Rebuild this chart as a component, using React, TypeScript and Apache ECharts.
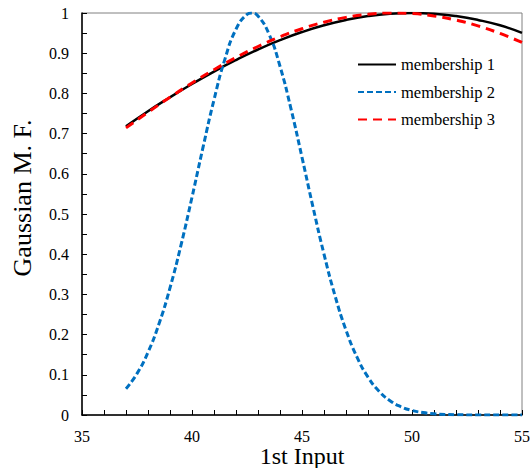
import React, { useEffect, useRef } from "react";
import * as echarts from "echarts";

const xTickLabels = [35, 40, 45, 50, 55];
const yTickLabels = [0, 0.1, 0.2, 0.3, 0.4, 0.5, 0.6, 0.7, 0.8, 0.9, 1];

const seriesNames = ["membership 1", "membership 2", "membership 3"];

const xWide = [37, 38, 39, 40, 41, 42, 43, 44, 45, 46, 47, 48, 49, 50, 51, 52, 53, 54, 55];
const m1Values = [0.718, 0.7558, 0.7904, 0.8233, 0.8544, 0.883, 0.9092, 0.9324, 0.9526, 0.9694, 0.9827, 0.9923, 0.9981, 1.0, 0.9981, 0.9923, 0.9827, 0.9694, 0.9506];
const m3Values = [0.7142, 0.753, 0.7903, 0.8258, 0.8589, 0.8894, 0.9167, 0.9407, 0.9609, 0.9771, 0.9891, 0.9967, 0.9999, 0.9986, 0.9927, 0.9824, 0.9679, 0.9492, 0.9267];

const xNarrow = [37, 37.5, 38, 38.5, 39, 39.5, 40, 40.5, 41, 41.5, 42, 42.5, 42.7, 43, 43.5, 44, 44.5, 45, 45.5, 46, 46.5, 47, 47.5, 48, 48.5, 49, 49.5, 50, 50.5, 51, 51.5, 52, 53, 54, 55];
const m2Values = [0.0651, 0.1029, 0.156, 0.2268, 0.3162, 0.4226, 0.5417, 0.6656, 0.7842, 0.8859, 0.9596, 0.9966, 1.0, 0.9925, 0.9476, 0.8675, 0.7615, 0.6409, 0.5172, 0.4002, 0.2969, 0.2112, 0.144, 0.0942, 0.0591, 0.0355, 0.0205, 0.0113, 0.006, 0.003, 0.0015, 0.0007, 0.0001, 0.0, 0.0];

const FONT = "Liberation Serif";

function pairs(xs: number[], ys: number[]) {
  return xs.map((x, i) => [x, ys[i]]);
}

export default function App() {
  const ref = useRef<HTMLDivElement>(null);
  useEffect(() => {
    document.body.style.margin = "0";
    if (!ref.current) return;
    const chart = echarts.init(ref.current, undefined, { renderer: "svg" });
    chart.setOption({
      animation: false,
      backgroundColor: "#ffffff",
      textStyle: { fontFamily: FONT },
      grid: {
        left: 82,
        right: 9,
        top: 13,
        bottom: 53,
        containLabel: false,
        outerBoundsMode: "none",
        show: true,
        borderColor: "#808080",
        borderWidth: 1,
      },
      legend: {
        orient: "vertical",
        left: 357,
        top: 56,
        padding: 0,
        itemWidth: 38,
        itemHeight: 16,
        itemGap: 10.5,
        data: seriesNames,
        itemStyle: { color: "transparent", borderWidth: 0, opacity: 0 },
        textStyle: { fontFamily: FONT, fontSize: 16.5, color: "#000" },
      },
      xAxis: {
        type: "value",
        min: xTickLabels[0],
        max: xTickLabels[xTickLabels.length - 1],
        interval: 5,
        name: "1st Input",
        nameLocation: "middle",
        nameGap: 29,
        nameMoveOverlap: false,
        nameTextStyle: { fontFamily: FONT, fontSize: 24, color: "#000" },
        axisLine: { show: true, lineStyle: { color: "#000", width: 1.5 } },
        axisTick: { show: true, inside: true, length: 5, lineStyle: { color: "#000" } },
        minorTick: { show: true, splitNumber: 5, length: 5, lineStyle: { color: "#000" } },
        axisLabel: { fontFamily: FONT, fontSize: 16, color: "#000", margin: 13 },
        splitLine: { show: false },
      },
      yAxis: {
        type: "value",
        min: yTickLabels[0],
        max: yTickLabels[yTickLabels.length - 1],
        interval: 0.1,
        name: "Gaussian M. F.",
        nameLocation: "middle",
        nameGap: 47,
        nameMoveOverlap: false,
        nameTextStyle: { fontFamily: FONT, fontSize: 26, color: "#000", padding: [0, 0, 0, 32] },
        axisLine: { show: true, lineStyle: { color: "#000", width: 1.5 } },
        axisTick: { show: true, inside: true, length: 5, lineStyle: { color: "#000" } },
        minorTick: { show: true, splitNumber: 2, length: 5, lineStyle: { color: "#000" } },
        axisLabel: { fontFamily: FONT, fontSize: 16, color: "#000", margin: 13 },
        splitLine: { show: false },
      },
      series: [
        {
          name: seriesNames[0],
          type: "line",
          smooth: true,
          symbol: "none",
          z: 2,
          data: pairs(xWide, m1Values),
          lineStyle: { color: "#000000", width: 2.5, type: "solid" },
          itemStyle: { color: "#000000" },
        },
        {
          name: seriesNames[1],
          type: "line",
          smooth: true,
          symbol: "none",
          z: 3,
          data: pairs(xNarrow, m2Values),
          lineStyle: { color: "#0070C0", width: 3, type: [6, 3] },
          itemStyle: { color: "#0070C0" },
        },
        {
          name: seriesNames[2],
          type: "line",
          smooth: true,
          symbol: "none",
          z: 4,
          data: pairs(xWide, m3Values),
          lineStyle: { color: "#FF0000", width: 3, type: [9, 6] },
          itemStyle: { color: "#FF0000" },
        },
      ],
    });
    return () => chart.dispose();
  }, []);
  return <div ref={ref} style={{ width: 531, height: 468 }} />;
}
